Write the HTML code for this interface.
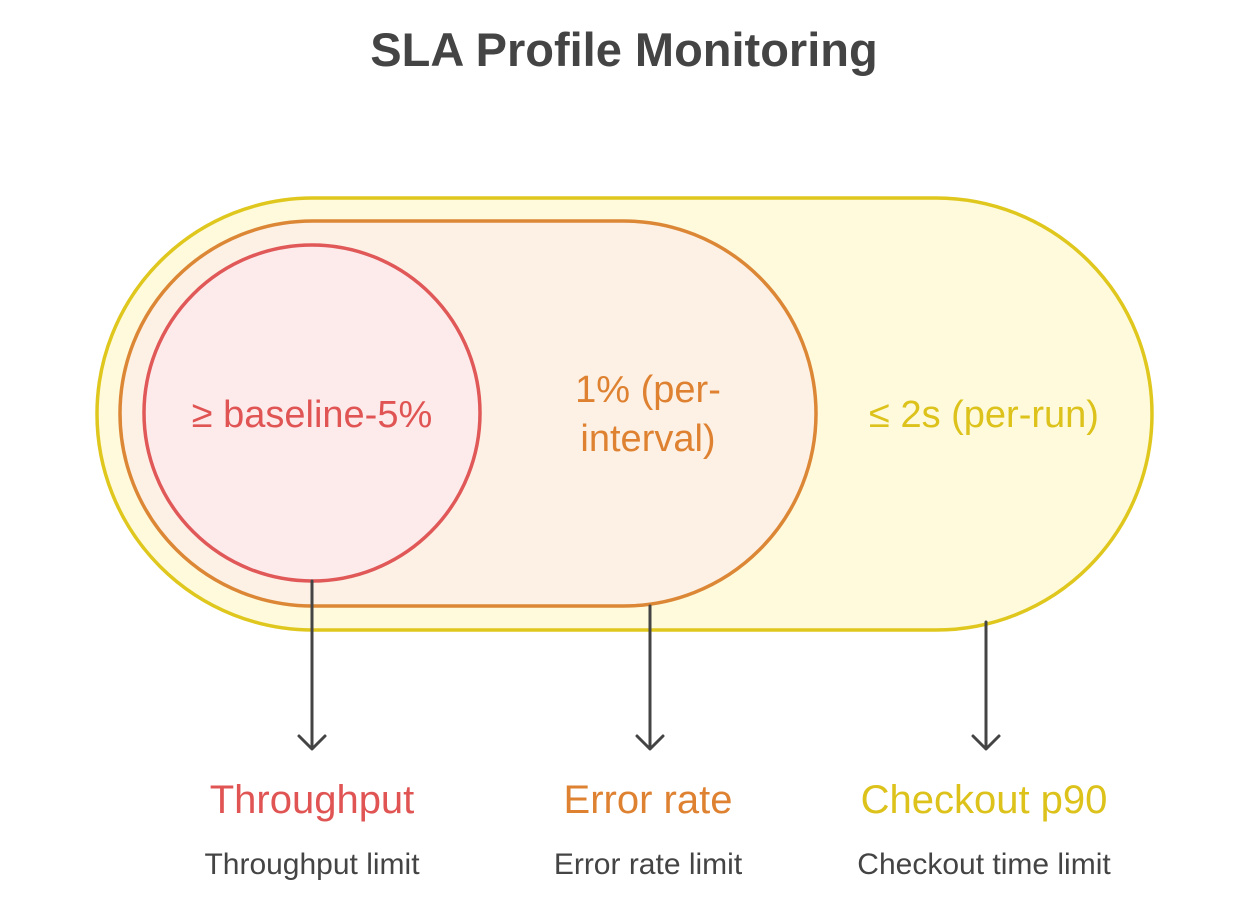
<!DOCTYPE html>
<html><head><meta charset="utf-8"><style>
html,body{margin:0;padding:0;background:#fff;}
svg{display:block;font-family:"Liberation Sans",sans-serif;}
</style></head><body>
<svg width="1248" height="906" viewBox="0 0 1248 906" xmlns="http://www.w3.org/2000/svg">
<rect width="1248" height="906" fill="#fff"/>
<text x="624" y="66" text-anchor="middle" font-size="47" font-weight="bold" fill="#444">SLA Profile Monitoring</text>
<rect x="97" y="198" width="1055" height="432" rx="216" fill="#fefadb" stroke="#dfc71d" stroke-width="3.5"/>
<rect x="120" y="221" width="696" height="385" rx="192.5" fill="#fdf1e5" stroke="#dc8736" stroke-width="3.5"/>
<circle cx="312" cy="413" r="168" fill="#fdebeb" stroke="#e05858" stroke-width="3.5"/>
<text x="312" y="427" text-anchor="middle" font-size="38" fill="#e05454">≥ baseline-5%</text>
<text x="648" y="402" text-anchor="middle" font-size="38" fill="#de8232">1% (per-</text>
<text x="648" y="451" text-anchor="middle" font-size="38" fill="#de8232">interval)</text>
<text x="984" y="427" text-anchor="middle" font-size="38" fill="#dcc21a">≤ 2s (per-run)</text>
<g stroke="#444" stroke-width="3" fill="none" stroke-linecap="round" stroke-linejoin="round">
<line x1="312" y1="581" x2="312" y2="748"/><polyline points="299,736 312,749 325,736"/>
<line x1="650" y1="606" x2="650" y2="748"/><polyline points="637,736 650,749 663,736"/>
<line x1="986" y1="622" x2="986" y2="748"/><polyline points="973,736 986,749 999,736"/>
</g>
<text x="312" y="813" text-anchor="middle" font-size="40" fill="#e05454">Throughput</text>
<text x="648" y="813" text-anchor="middle" font-size="40" fill="#de8232">Error rate</text>
<text x="984" y="813" text-anchor="middle" font-size="40" fill="#dcc21a">Checkout p90</text>
<text x="312" y="874" text-anchor="middle" font-size="30" fill="#444">Throughput limit</text>
<text x="648" y="874" text-anchor="middle" font-size="30" fill="#444">Error rate limit</text>
<text x="984" y="874" text-anchor="middle" font-size="30" fill="#444">Checkout time limit</text>
</svg>
</body></html>
